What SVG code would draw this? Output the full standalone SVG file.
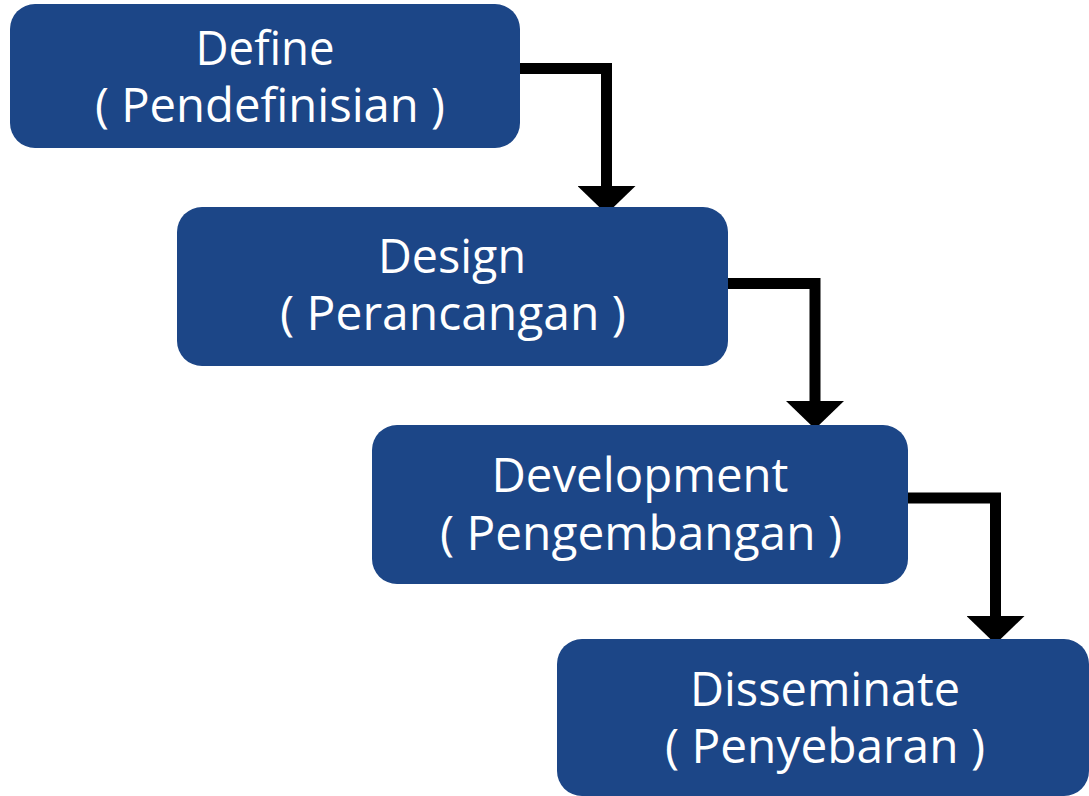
<svg xmlns="http://www.w3.org/2000/svg" width="1089" height="796" viewBox="0 0 1089 796">
<style>
.box{fill:#1c4687;}
.t{font-family:"Open Sans","Noto Sans",sans-serif;font-size:48px;fill:#ffffff;text-anchor:middle;}
.c{fill:none;stroke:#000;stroke-width:11;stroke-linejoin:miter;}
</style>
<defs>
<marker id="ah" markerUnits="userSpaceOnUse" markerWidth="28" markerHeight="58" refX="0" refY="29" orient="auto" viewBox="0 0 28 58">
<path d="M0,0 L28,29 L0,58 Z" fill="#000"/>
</marker>
</defs>
<rect width="1089" height="796" fill="#fff"/>
<g id="connectors">
<path class="c" d="M518,68.5 H606.5 V186" marker-end="url(#ah)"/>
<path class="c" d="M726,283.5 H815 V401" marker-end="url(#ah)"/>
<path class="c" d="M906,498 H995.5 V616" marker-end="url(#ah)"/>
</g>
<g id="define">
<rect class="box" x="10" y="4" width="510" height="144" rx="25"/>
<text class="t" x="265" y="65" textLength="139" lengthAdjust="spacingAndGlyphs">Define</text>
<text class="t" x="270" y="122" textLength="350" lengthAdjust="spacingAndGlyphs">( Pendefinisian )</text>
</g>
<g id="design">
<rect class="box" x="177" y="207" width="551" height="159" rx="25"/>
<text class="t" x="452" y="273" textLength="148" lengthAdjust="spacingAndGlyphs">Design</text>
<text class="t" x="453" y="330" textLength="346" lengthAdjust="spacingAndGlyphs">( Perancangan )</text>
</g>
<g id="development">
<rect class="box" x="372" y="425" width="536" height="159" rx="25"/>
<text class="t" x="640" y="492" textLength="297" lengthAdjust="spacingAndGlyphs">Development</text>
<text class="t" x="641" y="550" textLength="402" lengthAdjust="spacingAndGlyphs">( Pengembangan )</text>
</g>
<g id="disseminate">
<rect class="box" x="557" y="639" width="532" height="157" rx="25"/>
<text class="t" x="825" y="706" textLength="270" lengthAdjust="spacingAndGlyphs">Disseminate</text>
<text class="t" x="825" y="763" textLength="320" lengthAdjust="spacingAndGlyphs">( Penyebaran )</text>
</g>
</svg>
